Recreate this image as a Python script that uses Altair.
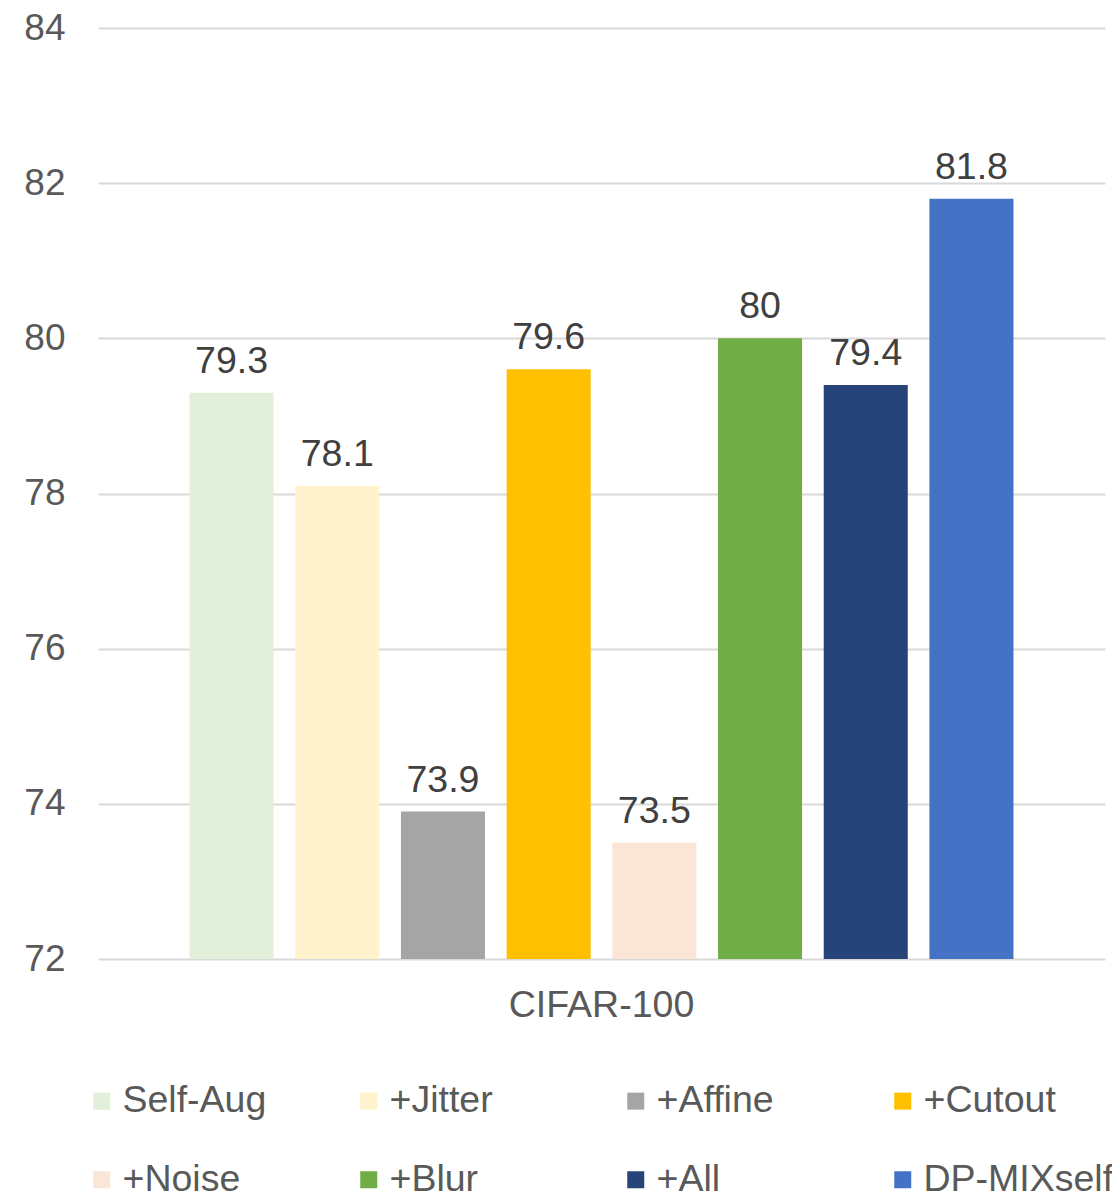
import altair as alt
import pandas as pd

methods = ["Self-Aug", "+Jitter", "+Affine", "+Cutout", "+Noise", "+Blur", "+All", "DP-MIXself"]
values = [79.3, 78.1, 73.9, 79.6, 73.5, 80.0, 79.4, 81.8]
labels = ["79.3", "78.1", "73.9", "79.6", "73.5", "80", "79.4", "81.8"]
colors = ["#E2EFDA", "#FFF2CC", "#A5A5A5", "#FFC000", "#FBE5D6", "#70AD47", "#264478", "#4472C4"]
dataset = "CIFAR-100"
y_ticks = [72, 74, 76, 78, 80, 82, 84]

df = pd.DataFrame({"dataset": [dataset] * len(methods), "method": methods,
                   "value": values, "label": labels})

FONT = "Liberation Sans"
FS = 37.5

x = alt.X("dataset:N", title=None,
          scale=alt.Scale(paddingInner=0, paddingOuter=0),
          axis=alt.Axis(labelAngle=0, labelFontSize=FS, labelColor="#595959",
                        labelFont=FONT, ticks=False, domain=False, labelPadding=27,
                        labelLimit=600))
xoff = alt.XOffset("method:N", sort=methods,
                   scale=alt.Scale(paddingInner=0.205, paddingOuter=0.866))
y = alt.Y("value:Q", title=None,
          scale=alt.Scale(domain=[72, 84], nice=False, zero=False),
          axis=alt.Axis(values=y_ticks, labelFontSize=37, labelColor="#595959",
                        labelFont=FONT, ticks=False, domain=False, labelPadding=33,
                        gridColor="#D9D9D9", gridWidth=2))

bars = alt.Chart(df).mark_bar(clip=True).encode(
    x=x, xOffset=xoff, y=y, y2=alt.datum(72),
    color=alt.Color("method:N", sort=methods,
                    scale=alt.Scale(domain=methods, range=colors),
                    legend=alt.Legend(title=None, orient="none", legendX=-15, legendY=1054,
                                      direction="horizontal",
                                      columns=4, gridAlign="all", columnPadding=37,
                                      rowPadding=40, symbolType="square", symbolSize=289,
                                      symbolStrokeWidth=0, labelFontSize=FS,
                                      labelColor="#595959", labelFont=FONT,
                                      labelOffset=2, labelLimit=400)),
)

text = alt.Chart(df).mark_text(fontSize=FS, font=FONT, color="#404040",
                               baseline="alphabetic", dy=-20).encode(
    x=x, xOffset=xoff, y=y, text="label:N")

chart = (bars + text).properties(
    width=1007, height=931,
    padding={"left": 98, "top": 28, "right": 7, "bottom": 236},
    autosize=alt.AutoSizeParams(type="none"),
).configure(background="white").configure_view(stroke=None, strokeWidth=0)

chart.save("out.html", embed_options={"renderer": "svg", "actions": False})
